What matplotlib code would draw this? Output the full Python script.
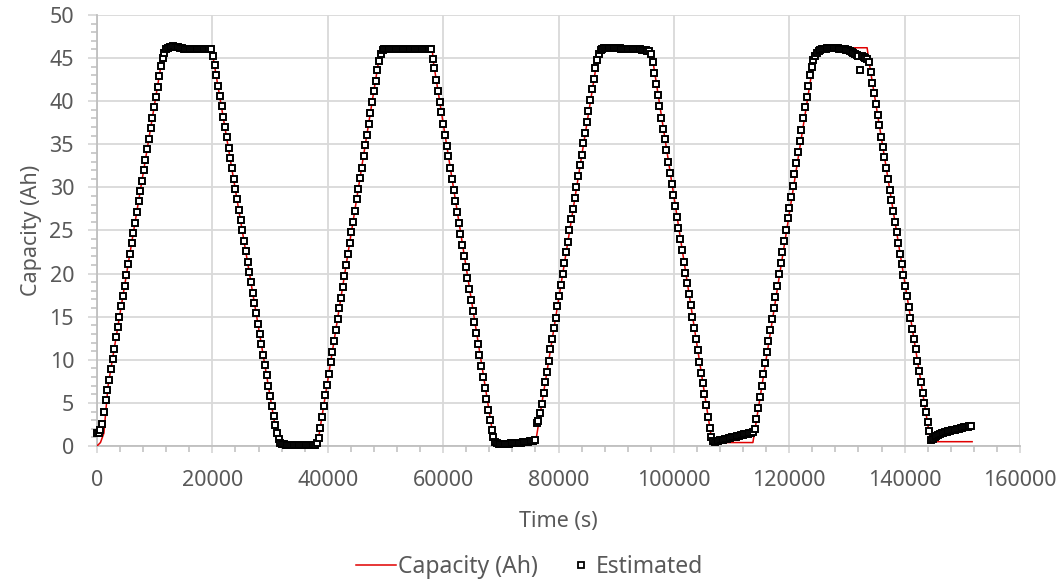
import numpy as np
import matplotlib
matplotlib.use("Agg")
import matplotlib.pyplot as plt
from matplotlib.ticker import MultipleLocator
from matplotlib.lines import Line2D

# ---------------- data ----------------
# Reference capacity (red line) breakpoints
cap_t = [0, 600, 1200, 1900, 11300, 12000, 19800, 19900, 31000, 31500, 32000, 38200,
         48900, 49600, 58100, 58300, 68700, 69300, 76000, 86700, 87400, 96000, 96100,
         106400, 106800, 113700, 124300, 125300, 133500, 133800, 144500, 151700]
cap_v = [0.0, 0.4, 1.5, 6.9, 45.0, 46.0, 46.1, 46.0, 1.8, 0.6, 0.1, 0.05,
         45.0, 46.0, 46.1, 44.6, 1.0, 0.2, 0.3, 44.8, 46.0, 46.0, 45.8,
         1.4, 0.4, 0.4, 45.0, 46.2, 46.2, 44.7, 0.5, 0.5]

# Estimated capacity (markers), sampled every 300 s, grouped by phase
est_step = 300
est_start = [0, 11700, 20100, 32400, 38100, 50100, 58200, 69600, 75900, 87900,
             96000, 107100, 114000, 124800, 133800, 144900]
est_charge1 = [1.5, 1.5, 1.9, 2.6, 4.0, 5.3, 6.5, 7.7, 8.9, 10.1, 11.3, 12.6, 13.8,
               15.0, 16.2, 17.4, 18.6, 19.8, 21.1, 22.3, 23.5, 24.7, 25.9, 27.1,
               28.4, 29.6, 30.8, 32.0, 33.2, 34.4, 35.6, 36.9, 38.1, 39.3, 40.5,
               41.7, 42.9, 44.1, 45.0]
est_top1 = [45.6, 46.0, 46.2, 46.3, 46.3, 46.4, 46.3, 46.3, 46.3, 46.2, 46.2, 46.1,
            46.1, 46.1, 46.0, 46.0, 46.0, 46.0, 46.0, 46.0, 46.0, 46.0, 46.0, 46.0,
            46.0, 46.0, 46.0, 46.0]
est_discharge1 = [45.2, 44.2, 43.0, 41.8, 40.6, 39.4, 38.2, 37.0, 35.8, 34.6, 33.4,
                  32.2, 31.0, 29.8, 28.6, 27.4, 26.2, 25.0, 23.8, 22.6, 21.4, 20.2,
                  19.0, 17.8, 16.6, 15.4, 14.2, 13.0, 11.8, 10.6, 9.4, 8.2, 7.0, 5.8,
                  4.6, 3.5, 2.4, 1.5, 0.8, 0.4, 0.25]
est_rest1 = [0.2, 0.15, 0.15, 0.1, 0.1, 0.1, 0.1, 0.1, 0.1, 0.1, 0.1, 0.1, 0.1, 0.1,
             0.1, 0.1, 0.1, 0.1, 0.15]
est_charge2 = [0.3, 0.9, 2.1, 3.4, 4.6, 5.9, 7.1, 8.4, 9.7, 10.9, 12.2, 13.4, 14.7,
               16.0, 17.2, 18.5, 19.7, 21.0, 22.3, 23.5, 24.8, 26.0, 27.3, 28.6,
               29.8, 31.1, 32.3, 33.6, 34.9, 36.1, 37.4, 38.6, 39.9, 41.2, 42.4,
               43.6, 44.7, 45.5, 45.9, 46.0]
est_top2 = [46.1, 46.1, 46.1, 46.1, 46.1, 46.1, 46.1, 46.1, 46.1, 46.1, 46.1, 46.1,
            46.1, 46.1, 46.1, 46.1, 46.1, 46.1, 46.1, 46.1, 46.1, 46.1, 46.1, 46.1,
            46.1, 46.0, 46.0]
est_discharge2 = [44.9, 43.8, 42.5, 41.2, 39.9, 38.7, 37.4, 36.1, 34.8, 33.6, 32.3,
                  31.0, 29.7, 28.4, 27.2, 25.9, 24.6, 23.3, 22.0, 20.8, 19.5, 18.2,
                  16.9, 15.7, 14.4, 13.1, 11.8, 10.5, 9.3, 8.0, 6.7, 5.4, 4.2, 3.0,
                  1.9, 1.0, 0.5, 0.3]
est_rest2 = [0.2, 0.2, 0.2, 0.2, 0.25, 0.25, 0.25, 0.3, 0.3, 0.3, 0.35, 0.35, 0.4,
             0.4, 0.45, 0.45, 0.5, 0.5, 0.55, 0.55, 0.6]
est_charge3 = [0.7, 2.7, 2.9, 3.8, 4.9, 6.1, 7.4, 8.6, 9.9, 11.2, 12.4, 13.7, 14.9,
               16.2, 17.4, 18.7, 20.0, 21.2, 22.5, 23.7, 25.0, 26.3, 27.5, 28.8,
               30.0, 31.3, 32.6, 33.8, 35.1, 36.3, 37.6, 38.9, 40.1, 41.4, 42.6,
               43.8, 44.8, 45.5, 45.9, 46.0]
est_top3 = [46.2, 46.2, 46.2, 46.2, 46.2, 46.2, 46.2, 46.2, 46.2, 46.2, 46.1, 46.1,
            46.1, 46.1, 46.1, 46.1, 46.1, 46.1, 46.0, 46.0, 46.0, 46.0, 45.9, 45.9,
            45.9, 45.8, 45.8]
est_discharge3 = [45.5, 44.6, 43.3, 42.0, 40.7, 39.4, 38.1, 36.8, 35.6, 34.3, 33.0,
                  31.7, 30.4, 29.1, 27.9, 26.6, 25.3, 24.0, 22.7, 21.4, 20.1, 18.9,
                  17.6, 16.3, 15.0, 13.7, 12.4, 11.1, 9.8, 8.5, 7.3, 6.0, 4.7, 3.4,
                  2.1, 1.1, 0.6]
est_rest3 = [0.5, 0.55, 0.6, 0.65, 0.7, 0.75, 0.8, 0.85, 0.9, 0.95, 1.0, 1.05, 1.1,
             1.15, 1.2, 1.25, 1.3, 1.35, 1.4, 1.45, 1.5, 1.55, 1.6]
est_charge4 = [2.0, 3.1, 4.4, 5.7, 7.0, 8.3, 9.6, 10.9, 12.2, 13.5, 14.7, 16.0, 17.3,
               18.6, 19.9, 21.2, 22.5, 23.8, 25.1, 26.4, 27.6, 28.9, 30.2, 31.5,
               32.8, 34.1, 35.4, 36.7, 38.0, 39.3, 40.5, 41.8, 43.0, 44.0, 44.8, 45.3]
est_top4 = [45.6, 45.8, 45.9, 46.0, 46.1, 46.1, 46.2, 46.2, 46.2, 46.2, 46.2, 46.2,
            46.2, 46.1, 46.1, 46.0, 46.0, 45.9, 45.9, 45.8, 45.7, 45.6, 45.5, 45.4,
            45.3, 43.6, 45.2, 45.1, 45.0, 44.9]
est_discharge4 = [44.6, 43.4, 42.1, 40.9, 39.7, 38.4, 37.2, 35.9, 34.7, 33.5, 32.2,
                  31.0, 29.7, 28.5, 27.3, 26.0, 24.8, 23.6, 22.3, 21.1, 19.8, 18.6,
                  17.4, 16.1, 14.9, 13.6, 12.4, 11.2, 9.9, 8.7, 7.4, 6.2, 5.0, 4.0,
                  2.8, 1.7, 0.7]
est_rest4 = [0.8, 1.0, 1.15, 1.3, 1.4, 1.5, 1.55, 1.6, 1.65, 1.7, 1.75, 1.8, 1.85,
             1.9, 1.95, 2.0, 2.05, 2.1, 2.15, 2.2, 2.25, 2.3, 2.35]

est_phases = [est_charge1, est_top1, est_discharge1, est_rest1, est_charge2, est_top2,
              est_discharge2, est_rest2, est_charge3, est_top3, est_discharge3,
              est_rest3, est_charge4, est_top4, est_discharge4, est_rest4]

x_ticks = [0, 20000, 40000, 60000, 80000, 100000, 120000, 140000, 160000]
y_ticks = [0, 5, 10, 15, 20, 25, 30, 35, 40, 45, 50]

est_t = np.concatenate([t0 + est_step * np.arange(len(v))
                        for t0, v in zip(est_start, est_phases)])
est_v = np.concatenate([np.asarray(v, float) for v in est_phases])

# ---------------- plot ----------------
plt.rcParams['font.family'] = ['Noto Sans', 'DejaVu Sans']
txt = '#595959'
gridc = '#d9d9d9'
red = '#e00000'

fig = plt.figure(figsize=(10.61, 5.81), dpi=100)
ax = fig.add_axes([97 / 1061, 1 - 446 / 581, (1020 - 97) / 1061, (446 - 15) / 581])

ax.plot(cap_t, cap_v, color=red, lw=1.1, zorder=3)
ax.plot(est_t, est_v, ls='none', marker='s', ms=4.9, mfc='white', mec='black',
        mew=1.4, zorder=4, clip_on=False)

ax.set_xlim(0, 160000)
ax.set_ylim(0, 50)
ax.set_xticks(x_ticks)
ax.set_yticks(y_ticks)
ax.xaxis.set_minor_locator(MultipleLocator(4000))
ax.yaxis.set_minor_locator(MultipleLocator(1))
ax.grid(True, which='major', color=gridc, lw=1.3, zorder=0)
ax.set_axisbelow(True)
for s in ['top', 'right']:
    ax.spines[s].set_visible(False)
for s in ['left', 'bottom']:
    ax.spines[s].set_color('#bfbfbf')
    ax.spines[s].set_linewidth(1.3)

ax.tick_params(axis='both', which='major', labelsize=15.5, labelcolor=txt,
               color=gridc, width=1.3)
ax.tick_params(axis='y', which='major', length=6.5, pad=10)
ax.tick_params(axis='x', which='major', length=5, pad=12)
ax.tick_params(axis='both', which='minor', color='#bfbfbf', width=1.1, length=4)

ax.set_xlabel('Time (s)', fontsize=15.5, color=txt)
ax.set_ylabel('Capacity (Ah)', fontsize=15.5, color=txt)
ax.xaxis.set_label_coords(0.5, -0.15)
ax.yaxis.set_label_coords(-0.06, 0.5)

h_cap = Line2D([], [], color=red, lw=1.1)
h_est = Line2D([], [], ls='none', marker='s', ms=4.2, mfc='white', mec='black', mew=1.3)
leg1 = fig.legend([h_cap], ['Capacity (Ah)'], loc='center left',
                  bbox_to_anchor=(356 / 1061, 1 - 567 / 581), frameon=False,
                  fontsize=16.5, labelcolor=txt, handlelength=1.75, handletextpad=0.1,
                  borderaxespad=0, borderpad=0)
leg2 = fig.legend([h_est], ['Estimated'], loc='center left',
                  bbox_to_anchor=(574 / 1061, 1 - 567 / 581), frameon=False,
                  fontsize=16.5, labelcolor=txt, handlelength=0.6, handletextpad=0.35,
                  borderaxespad=0, borderpad=0)

fig.savefig('out.png', dpi=100)
